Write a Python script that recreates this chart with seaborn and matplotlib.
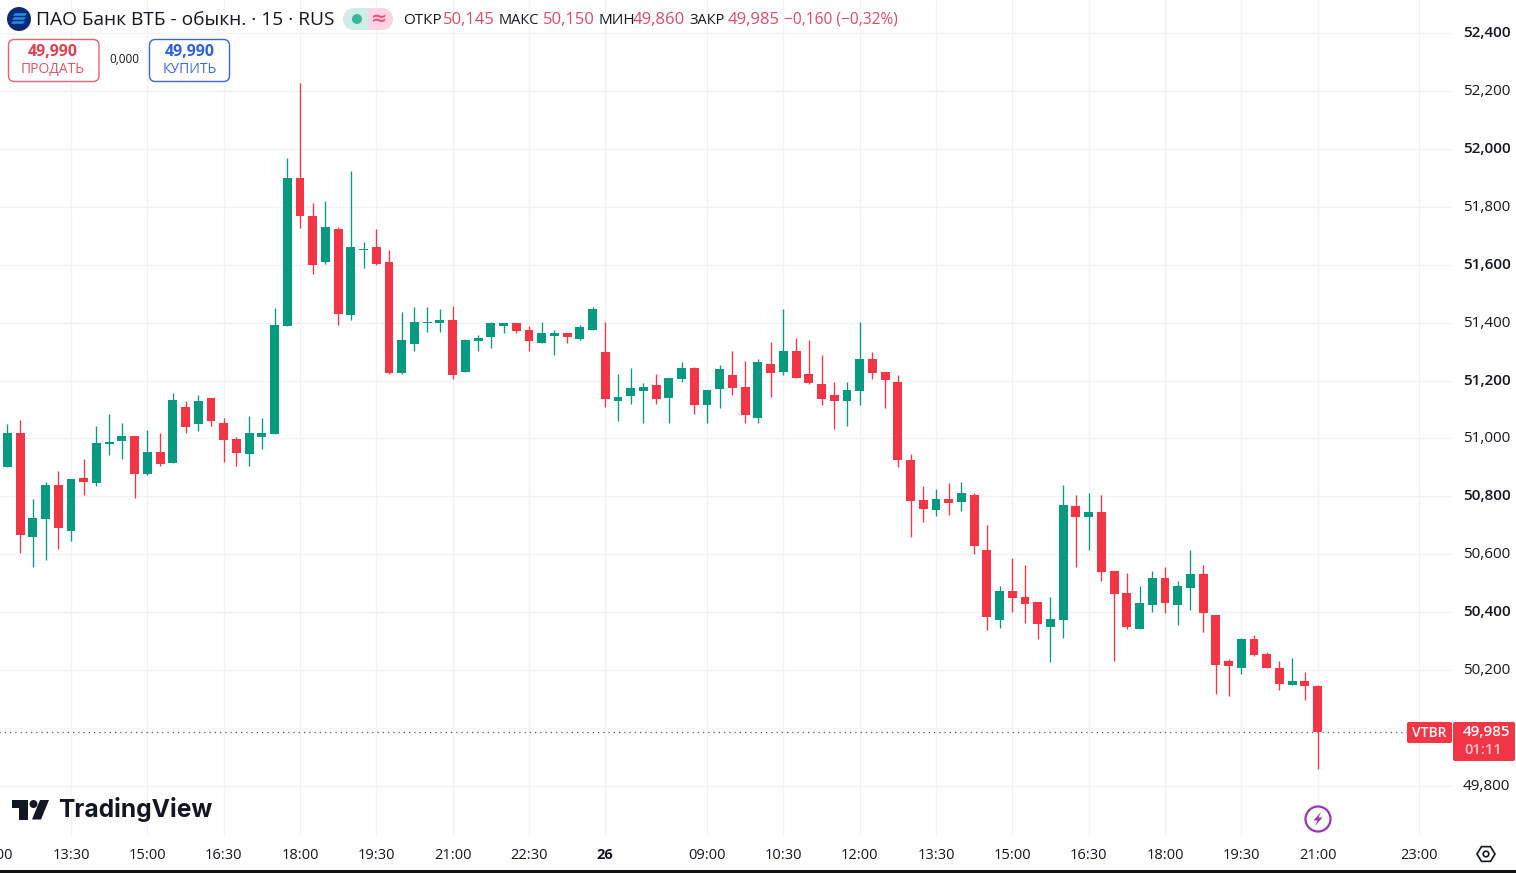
import matplotlib
matplotlib.use("Agg")
import matplotlib.pyplot as plt
import numpy as np
import pandas as pd
import seaborn as sns
from matplotlib.patches import Circle, FancyBboxPatch, Polygon, Rectangle
from matplotlib.transforms import ScaledTranslation

# 15 minute candles
opens = [50901, 51018, 50660, 50722, 50841, 50680, 50862, 50846, 50980, 50991, 51007, 50877, 50952,
         50915, 51108, 51049, 51139, 51052, 50997, 50946, 51004, 51015, 51388, 51901, 51769, 51608,
         51724, 51426, 51652, 51662, 51610, 51226, 51326, 51398, 51398, 51408, 51230, 51336, 51349,
         51388, 51398, 51374, 51330, 51353, 51363, 51342, 51375, 51298, 51129, 51147, 51164, 51184,
         51140, 51204, 51242, 51116, 51171, 51218, 51177, 51071, 51256, 51230, 51301, 51222, 51187,
         51149, 51129, 51164, 51273, 51228, 51195, 50925, 50788, 50754, 50791, 50779, 50805, 50615,
         50374, 50473, 50453, 50435, 50350, 50374, 50767, 50730, 50746, 50542, 50466, 50343, 50426,
         50518, 50426, 50485, 50532, 50390, 50232, 50209, 50308, 50256, 50207, 50150, 50163, 50145]
highs = [51049, 51063, 50790, 50850, 50889, 50861, 50928, 51042, 51083, 51052, 51007, 51031, 51018,
         51158, 51128, 51149, 51139, 51070, 51004, 51076, 51070, 51452, 51970, 52229, 51813, 51820,
         51730, 51924, 51680, 51724, 51652, 51436, 51453, 51453, 51446, 51458, 51342, 51356, 51401,
         51400, 51398, 51388, 51401, 51374, 51363, 51391, 51453, 51401, 51222, 51242, 51193, 51222,
         51208, 51263, 51248, 51166, 51253, 51301, 51266, 51276, 51332, 51446, 51346, 51339, 51287,
         51194, 51194, 51401, 51297, 51228, 51220, 50947, 50836, 50826, 50846, 50850, 50811, 50701,
         50491, 50587, 50563, 50435, 50453, 50840, 50805, 50812, 50805, 50542, 50536, 50491, 50542,
         50557, 50508, 50615, 50563, 50390, 50237, 50310, 50321, 50263, 50232, 50242, 50194, 50150]
lows = [50901, 50604, 50557, 50580, 50617, 50646, 50805, 50836, 50943, 50929, 50794, 50874, 50905,
        50915, 51019, 51025, 51043, 50919, 50904, 50905, 50962, 51015, 51388, 51726, 51567, 51601,
        51392, 51409, 51587, 51600, 51223, 51223, 51302, 51368, 51368, 51204, 51230, 51302, 51311,
        51364, 51364, 51302, 51330, 51288, 51330, 51340, 51375, 51109, 51060, 51119, 51053, 51119,
        51053, 51195, 51084, 51053, 51105, 51150, 51053, 51053, 51143, 51219, 51209, 51187, 51116,
        51033, 51043, 51116, 51205, 51105, 50903, 50661, 50713, 50734, 50737, 50751, 50602, 50339,
        50347, 50401, 50364, 50309, 50228, 50312, 50557, 50615, 50509, 50232, 50343, 50343, 50401,
        50397, 50356, 50408, 50333, 50119, 50112, 50188, 50249, 50209, 50133, 50150, 50098, 49860]
closes = [51018, 50666, 50724, 50841, 50691, 50859, 50850, 50983, 50987, 51007, 50877, 50952, 50911,
          51132, 51040, 51128, 51060, 50995, 50950, 51018, 51018, 51391, 51901, 51767, 51598, 51731,
          51430, 51662, 51656, 51604, 51226, 51339, 51401, 51401, 51408, 51218, 51339, 51346, 51398,
          51398, 51370, 51335, 51363, 51363, 51349, 51384, 51446, 51136, 51142, 51173, 51177, 51135,
          51208, 51242, 51116, 51166, 51239, 51173, 51081, 51263, 51226, 51301, 51209, 51192, 51136,
          51129, 51166, 51273, 51226, 51202, 50924, 50785, 50758, 50791, 50777, 50812, 50630, 50385,
          50473, 50450, 50430, 50361, 50377, 50770, 50730, 50746, 50540, 50464, 50348, 50432, 50518,
          50433, 50491, 50532, 50399, 50219, 50215, 50308, 50252, 50209, 50153, 50163, 50146, 49985]

price_ticks = [49800, 50000, 50200, 50400, 50600, 50800, 51000, 51200, 51400, 51600, 51800, 52000, 52200, 52400]
time_ticks = [-1, 5, 11, 17, 23, 29, 35, 41, 47, 55, 61, 67, 73, 79, 85, 91, 97, 103, 111]
time_labels = ["12:00", "13:30", "15:00", "16:30", "18:00", "19:30", "21:00", "22:30", "26", "09:00",
               "10:30", "12:00", "13:30", "15:00", "16:30", "18:00", "19:30", "21:00", "23:00"]
last_price = 49985

GREEN = "#089981"
RED = "#F23645"
GRID = "#F2F3F5"
TEXT = "#131722"

sns.set_theme(style="white")
plt.rcParams["font.family"] = ["Open Sans", "DejaVu Sans"]

df = pd.DataFrame({"idx": np.arange(len(opens)), "open": opens, "high": highs, "low": lows, "close": closes})
df["body"] = (df["close"] - df["open"]).abs()
df["bottom"] = df[["open", "close"]].min(axis=1)
up = df[df["close"] >= df["open"]]
down = df[df["close"] < df["open"]]

fig = plt.figure(figsize=(15.16, 8.73), dpi=100, facecolor="white")
# axes starts left of the figure so the first time label is cut like in the screenshot
ax = fig.add_axes([-20 / 1516, (873 - 836) / 873, 1472 / 1516, 836 / 873])
ax.set_facecolor("white")

for part, colour in [(up, GREEN), (down, RED)]:
    ax.vlines(part["idx"], part["low"], part["high"], colors=colour, lw=0.95, zorder=2)
    sns.barplot(data=part, x="idx", y="body", bottom=part["bottom"], native_scale=True, color=colour,
                saturation=1, width=0.7, linewidth=0, zorder=3, ax=ax)

ax.axhline(last_price, color="#50535E", lw=0.9, ls=(0, (1, 3.2)), zorder=1)

ax.set_xlim((-20 - 7.44) / 12.72, (1452 - 7.44) / 12.72)
ax.set_ylim(49800 - 50 / 0.2896, 49800 + 786 / 0.2896)
ax.set_xlabel("")
ax.set_ylabel("")
for spine in ax.spines.values():
    spine.set_visible(False)

ax.set_xticks(time_ticks)
ax.set_xticklabels(time_labels)
ax.set_yticks(price_ticks)
ax.set_yticklabels([f"{v:,}" for v in price_ticks])
ax.yaxis.tick_right()
ax.tick_params(axis="x", length=0, pad=8.5, labelsize=10.5, labelcolor=TEXT)
ax.tick_params(axis="y", length=0, pad=8, labelsize=11, labelcolor=TEXT)
ax.grid(True, color=GRID, lw=1)
ax.set_axisbelow(True)
for lab in ax.get_xticklabels():
    if lab.get_text() == "26":
        lab.set_fontweight("bold")
nudge = ScaledTranslation(0, 1.5 / 100, fig.dpi_scale_trans)
for n, lab in enumerate(ax.get_yticklabels()):
    lab.set_transform(lab.get_transform() + nudge)
    if n % 2 == 1:
        lab.set_fontweight("semibold")

# overlay in pixel coordinates for the TradingView furniture
ov = fig.add_axes([0, 0, 1, 1], zorder=5)
ov.set_xlim(0, 1516)
ov.set_ylim(873, 0)
ov.axis("off")
ov.patch.set_alpha(0)

ov.add_patch(Rectangle((0, 870), 1516, 3, color="#101114", lw=0))

# header
ov.add_patch(Circle((19, 19), 12, color="#0D2A78", lw=0))
for yy, x0 in [(14.5, 13), (18.5, 12), (22.5, 11)]:
    ov.add_patch(Polygon([(x0 + 2, yy - 1.3), (x0 + 14, yy - 1.3), (x0 + 12, yy + 1.3), (x0, yy + 1.3)],
                         color="#1E8FE6", lw=0))
ov.text(36, 20, "ПАО Банк ВТБ - обыкн. · 15 · RUS", fontsize=13.75, color=TEXT, va="center", ha="left")

ov.add_patch(Circle((354, 19), 11, color="#CFEDE6", lw=0))
ov.add_patch(Circle((382, 19), 11, color="#FAD4E2", lw=0))
ov.add_patch(Rectangle((354, 8), 14, 22, color="#CFEDE6", lw=0))
ov.add_patch(Rectangle((368, 8), 14, 22, color="#FAD4E2", lw=0))
ov.add_patch(Circle((357, 19), 5, color="#3CB795", lw=0))
ov.text(379, 18.5, "≈", fontsize=14, color="#F0537F", va="center", ha="center", fontweight="bold",
        family="DejaVu Sans")

PINK = "#DB4B68"
for xx, txt, col, fs in [(403, "ОТКР", TEXT, 11), (443, "50,145", PINK, 12), (499, "МАКС", TEXT, 10.5),
                         (543, "50,150", PINK, 12), (598, "МИН", TEXT, 11), (633, "49,860", PINK, 12),
                         (689, "ЗАКР", TEXT, 10.5), (728, "49,985", PINK, 12),
                         (784, "−0,160 (−0,32%)", PINK, 11.2)]:
    ov.text(xx, 20, txt, fontsize=fs, color=col, va="center", ha="left")

# buy / sell boxes
ov.add_patch(FancyBboxPatch((8.5, 39.5), 90.5, 42, boxstyle="round,pad=0,rounding_size=6",
                            fc="white", ec="#E4616E", lw=1))
ov.text(53, 52, "49,990", fontsize=11.5, color="#E0404F", fontweight="bold", ha="center", va="center")
ov.text(53, 69.5, "ПРОДАТЬ", fontsize=10, color="#DF5562", ha="center", va="center")
ov.text(124, 59.5, "0,000", fontsize=8.5, color=TEXT, ha="center", va="center")
ov.add_patch(FancyBboxPatch((149.5, 39.5), 80, 42, boxstyle="round,pad=0,rounding_size=6",
                            fc="white", ec="#3D68C8", lw=1))
ov.text(190, 52, "49,990", fontsize=11.5, color="#3060DC", fontweight="bold", ha="center", va="center")
ov.text(190, 69.5, "КУПИТЬ", fontsize=10, color="#3D6BD0", ha="center", va="center")

# price tags
ov.add_patch(FancyBboxPatch((1407, 722), 45, 21, boxstyle="round,pad=0,rounding_size=2", color=RED, lw=0))
ov.text(1429.5, 733, "VTBR", fontsize=10, color="white", ha="center", va="center", fontweight="semibold")
ov.add_patch(FancyBboxPatch((1453, 722), 62, 39, boxstyle="round,pad=0,rounding_size=2", color=RED, lw=0))
ov.text(1487, 732, "49,985", fontsize=11, color="white", ha="center", va="center", fontweight="semibold")
ov.text(1483, 750, "01:11", fontsize=10.5, color="#FBC6CC", ha="center", va="center", fontweight="semibold")

# logo
ov.add_patch(Polygon([(12, 800), (28, 800), (28, 819.5), (19, 819.5), (19, 808), (12, 808)], color=TEXT, lw=0))
ov.add_patch(Circle((33.5, 804), 4, color=TEXT, lw=0))
ov.add_patch(Polygon([(40, 800), (49, 800), (41, 819.5), (32, 819.5)], color=TEXT, lw=0))
ov.text(58, 810, "TradingView", fontsize=17.7, color=TEXT, fontweight="bold", family="Inter",
        ha="left", va="center")

# flash icon
ov.add_patch(Circle((1318, 819), 12.5, fc="white", ec="#9C35B5", lw=1.6))
ov.add_patch(Polygon([(1321, 812), (1313.5, 820.5), (1317.5, 820.5), (1315, 826), (1322.5, 817.5), (1318.5, 817.5)],
                     color="#9C35B5", lw=0))

# settings hexagon
ang = np.deg2rad(np.arange(0, 360, 60))
ov.add_patch(Polygon(np.c_[1486 + 9 * np.cos(ang), 854 + 8.5 * np.sin(ang)], fc="white", ec=TEXT, lw=1.2))
ov.add_patch(Circle((1486, 854), 2.8, fc="white", ec=TEXT, lw=1.2))

fig.savefig("out.png", dpi=100)
